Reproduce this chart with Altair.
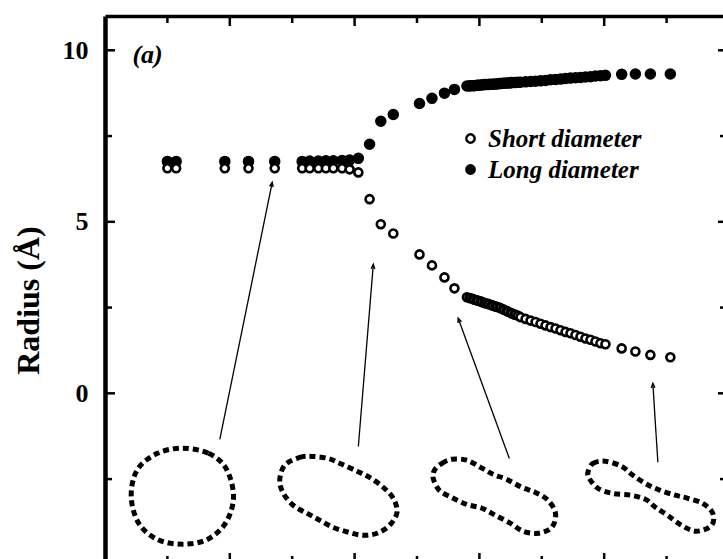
import math
import altair as alt
import pandas as pd

SERIF = "Liberation Serif"

# ---- radii along the deformation path (shared abscissa) -----------------
x_vals = [0.50, 0.57, 0.96, 1.15, 1.36, 1.58, 1.64, 1.71, 1.77, 1.83, 1.90, 1.96, 2.03,
          2.12, 2.21, 2.31, 2.52, 2.62, 2.72, 2.80,
          2.90, 2.92, 2.93, 2.95, 2.96, 2.98, 2.99, 3.01, 3.02, 3.04, 3.05, 3.07, 3.08,
          3.10, 3.11, 3.13, 3.14, 3.16, 3.17, 3.19, 3.20, 3.22, 3.23, 3.25, 3.26, 3.28,
          3.29, 3.31, 3.33,
          3.37, 3.41, 3.45, 3.49, 3.53, 3.57, 3.61, 3.65, 3.69, 3.73, 3.77, 3.81, 3.85,
          3.89, 3.93, 3.97, 4.01,
          4.14, 4.25, 4.37, 4.53]

long_radius = [6.76, 6.76, 6.76, 6.76, 6.76, 6.76, 6.77, 6.77, 6.78, 6.78, 6.79, 6.80, 6.85,
               7.26, 7.93, 8.13, 8.45, 8.60, 8.75, 8.86,
               8.96, 8.96, 8.97, 8.97, 8.97, 8.98, 8.98, 8.99, 8.99, 9.00, 9.00, 9.00, 9.01,
               9.01, 9.01, 9.02, 9.02, 9.03, 9.03, 9.04, 9.04, 9.05, 9.05, 9.05, 9.06, 9.06,
               9.06, 9.07, 9.07,
               9.08, 9.09, 9.10, 9.11, 9.12, 9.14, 9.15, 9.16, 9.18, 9.19, 9.20, 9.21, 9.22,
               9.23, 9.25, 9.26, 9.27,
               9.30, 9.31, 9.31, 9.31]

short_radius = [6.56, 6.56, 6.56, 6.56, 6.56, 6.56, 6.56, 6.56, 6.56, 6.56, 6.56, 6.53, 6.44,
                5.66, 4.93, 4.66, 4.05, 3.73, 3.38, 3.06,
                2.80, 2.78, 2.77, 2.75, 2.73, 2.71, 2.70, 2.68, 2.66, 2.64, 2.62, 2.61, 2.59,
                2.57, 2.55, 2.53, 2.52, 2.50, 2.48, 2.45, 2.43, 2.40, 2.38, 2.35, 2.33, 2.30,
                2.29, 2.26, 2.22,
                2.17, 2.12, 2.08, 2.03, 1.98, 1.93, 1.89, 1.84, 1.79, 1.75, 1.70, 1.65, 1.60,
                1.56, 1.51, 1.46, 1.43,
                1.31, 1.22, 1.12, 1.05]

series_names = ["Short diameter", "Long diameter"]

# ---- cross-section sketches (closed outlines in chart units) ------------
loop1_x = [0.62, 0.83, 0.97, 1.03, 0.97, 0.82, 0.62, 0.42, 0.27, 0.21, 0.26, 0.42]
loop1_y = [-1.60, -1.75, -2.19, -3.00, -3.76, -4.26, -4.40, -4.26, -3.79, -3.00, -2.22, -1.75]

loop2_x = [1.44, 1.56, 1.66, 1.79, 1.90, 2.02, 2.12, 2.23, 2.31, 2.34,
           2.28, 2.18, 2.07, 1.95, 1.83, 1.72, 1.62, 1.51, 1.43, 1.40]
loop2_y = [-2.10, -1.87, -1.84, -1.90, -2.07, -2.27, -2.45, -2.74, -3.06, -3.47,
           -3.85, -4.08, -4.14, -4.05, -3.91, -3.70, -3.50, -3.27, -2.92, -2.54]

loop3_x = [2.64, 2.70, 2.78, 2.90, 3.01, 3.11, 3.22, 3.34, 3.45, 3.55, 3.61,
           3.58, 3.47, 3.35, 3.25, 3.13, 3.02, 2.90, 2.79, 2.68, 2.63]
loop3_y = [-2.24, -2.04, -1.92, -1.95, -2.16, -2.36, -2.51, -2.74, -2.89, -3.12, -3.50,
           -3.91, -4.08, -4.02, -3.79, -3.56, -3.35, -3.24, -3.06, -2.83, -2.48]

loop4_x = [3.87, 3.91, 4.01, 4.14, 4.23, 4.34, 4.45, 4.57, 4.67, 4.79, 4.87,
           4.86, 4.74, 4.62, 4.51, 4.41, 4.33, 4.21, 4.07, 3.95, 3.88]
loop4_y = [-2.30, -2.04, -1.98, -2.13, -2.39, -2.65, -2.83, -2.97, -3.06, -3.21, -3.50,
           -3.85, -4.02, -3.85, -3.56, -3.32, -3.09, -2.97, -2.92, -2.77, -2.48]

# ---- arrows from each sketch up to its stage on the curves --------------
arrow_x0 = [0.92, 2.03, 3.24, 4.43]
arrow_y0 = [-1.34, -1.55, -1.90, -2.01]
arrow_x1 = [1.34, 2.15, 2.83, 4.39]
arrow_y1 = [6.15, 3.76, 2.19, 0.29]

# ---- frame ticks --------------------------------------------------------
y_ticks_major = [0, 5, 10]
y_ticks_minor = [-2.5, 2.5, 7.5]
x_ticks_major = [1, 2, 3, 4]
x_ticks_minor = [0.5, 1.5, 2.5, 3.5, 4.5]

W, H = 618, 543
X_DOMAIN = [0, 4.952]
Y_DOMAIN = [-4.83, 11]

xs = alt.Scale(domain=X_DOMAIN, nice=False, zero=False)
ys = alt.Scale(domain=Y_DOMAIN, nice=False, zero=False)

x_axis = alt.Axis(orient="top", domain=True, domainColor="black", domainWidth=3.5,
                  ticks=False, labels=False, grid=False, title=None)
y_axis = alt.Axis(orient="left", values=y_ticks_major, domain=True, domainColor="black",
                  domainWidth=4.5, ticks=False, grid=False, labelPadding=17,
                  labelFont=SERIF, labelFontSize=26, labelFontWeight="bold",
                  labelColor="black", title="Radius (Å)", titleFont=SERIF,
                  titleFontSize=32, titleFontWeight="bold", titleColor="black",
                  titleAngle=270, titleX=-77, titleY=284, titleAlign="center",
                  titleBaseline="middle")

X = alt.X("x:Q", scale=xs, axis=x_axis)
Y = alt.Y("y:Q", scale=ys, axis=y_axis)

# data tables
n = len(x_vals)
long_df = pd.DataFrame({"x": x_vals, "y": long_radius, "kind": ["Long diameter"] * n})
short_df = pd.DataFrame({"x": x_vals, "y": short_radius, "kind": ["Short diameter"] * n})

loops = []
for k, (lx, ly) in enumerate([(loop1_x, loop1_y), (loop2_x, loop2_y),
                               (loop3_x, loop3_y), (loop4_x, loop4_y)]):
    for i, (a, b) in enumerate(zip(lx, ly)):
        loops.append({"loop": k, "i": i, "x": a, "y": b})
loops = pd.DataFrame(loops)

px_x = W / (X_DOMAIN[1] - X_DOMAIN[0])
px_y = H / (Y_DOMAIN[1] - Y_DOMAIN[0])
arrows = pd.DataFrame({"x": arrow_x0, "y": arrow_y0, "x2": arrow_x1, "y2": arrow_y1})
angles = [
    math.degrees(math.atan2((b - a) * px_x, (d - c) * px_y)) % 360
    for a, b, c, d in zip(arrow_x0, arrow_x1, arrow_y0, arrow_y1)
]
heads = pd.DataFrame({"x": arrow_x1, "y": arrow_y1, "angle": angles})

# ---- layers -------------------------------------------------------------
fill_enc = alt.Fill(
    "kind:N",
    scale=alt.Scale(domain=series_names, range=["white", "black"]),
    legend=alt.Legend(title=None, orient="none", legendX=353, legendY=110,
                      direction="vertical", labelFont=SERIF,
                      labelFontSize=25, labelFontStyle="italic",
                      labelFontWeight="bold", labelColor="black",
                      symbolType="circle", symbolSize=70,
                      symbolStrokeColor="black", symbolStrokeWidth=2.4,
                      labelOffset=5, rowPadding=5, padding=0,
                      labelLimit=300),
)

long_layer = alt.Chart(long_df).mark_point(
    filled=True, shape="circle", stroke="black", strokeWidth=1.5, size=100, opacity=1
).encode(x=X, y=Y, fill=fill_enc)

short_layer = alt.Chart(short_df).mark_point(
    filled=True, shape="circle", stroke="black", strokeWidth=2.6, size=64, opacity=1
).encode(x=X, y=Y, fill=fill_enc)

loop_layer = alt.Chart(loops).mark_line(
    color="black", strokeWidth=5, strokeDash=[6, 4], interpolate="cardinal-closed"
).encode(x=X, y=Y, detail="loop:N", order="i:Q")

arrow_layer = alt.Chart(arrows).mark_rule(color="black", strokeWidth=1.3).encode(
    x=X, y=Y, x2="x2:Q", y2="y2:Q"
)

head_layer = alt.Chart(heads).mark_point(
    shape="M-0.38,0.95L0,0L0.38,0.95", filled=False, stroke="black",
    strokeWidth=1.4, size=90, opacity=1
).encode(x=X, y=Y, angle=alt.Angle("angle:Q", scale=None))

label_a = alt.Chart(pd.DataFrame({"x": [0.22], "y": [9.85], "t": ["(a)"]})).mark_text(
    font=SERIF, fontSize=26, fontStyle="italic", fontWeight="bold", color="black",
    align="left", baseline="middle"
).encode(x=X, y=Y, text="t:N")

def yticks(vals, x0, x1):
    return alt.Chart(pd.DataFrame({"y": vals})).mark_rule(
        color="black", strokeWidth=2.5
    ).encode(y=Y, x=alt.value(x0), x2=alt.value(x1))

def xticks(vals, y0, y1):
    return alt.Chart(pd.DataFrame({"x": vals})).mark_rule(
        color="black", strokeWidth=2.5
    ).encode(x=X, y=alt.value(y0), y2=alt.value(y1))

tick_layers = [
    yticks(y_ticks_major, 0, 10), yticks(y_ticks_minor, 0, 7),
    yticks(y_ticks_major, W - 5, W), yticks(y_ticks_minor, W - 3, W),
    xticks(x_ticks_major, 0, 10), xticks(x_ticks_minor, 0, 7),
    xticks(x_ticks_major, H - 6, H), xticks(x_ticks_minor, H - 3, H),
]

chart = alt.layer(
    *tick_layers, loop_layer, arrow_layer, head_layer, long_layer, short_layer, label_a
).properties(
    width=W, height=H,
    padding={"left": 105, "top": 16, "right": 0, "bottom": 0},
    autosize=alt.AutoSizeParams(type="none"),
    background="white",
).configure_view(stroke=None)

chart.save("out.html", embed_options={"renderer": "svg", "actions": False})
